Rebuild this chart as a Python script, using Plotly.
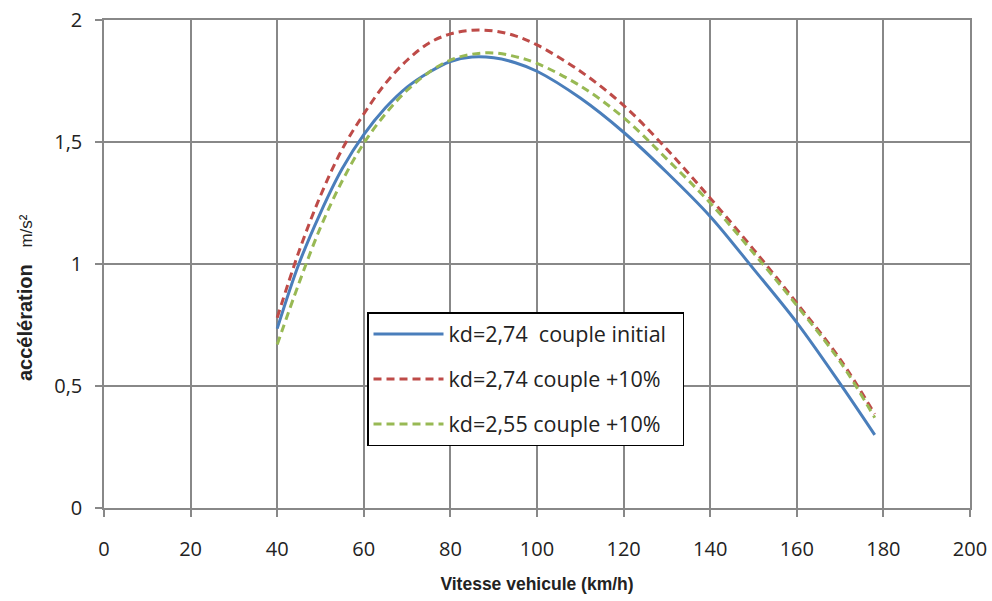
import plotly.graph_objects as go

vitesse = [40, 45, 50, 55, 60, 65, 70, 75, 80, 85, 90, 95, 100, 110, 120, 130, 140, 150, 160, 170, 178]
acc_initial = [0.735, 1.00, 1.21, 1.39, 1.53, 1.64, 1.725, 1.785, 1.83, 1.848, 1.845, 1.825, 1.79, 1.68, 1.54, 1.375, 1.195, 0.98, 0.76, 0.51, 0.30]
acc_274_p10 = [0.78, 1.05, 1.28, 1.47, 1.615, 1.74, 1.835, 1.905, 1.943, 1.958, 1.955, 1.935, 1.898, 1.79, 1.65, 1.47, 1.27, 1.06, 0.84, 0.61, 0.385]
acc_255_p10 = [0.67, 0.92, 1.15, 1.34, 1.495, 1.615, 1.712, 1.785, 1.836, 1.86, 1.865, 1.85, 1.822, 1.73, 1.60, 1.43, 1.25, 1.045, 0.83, 0.60, 0.37]

names = ["kd=2,74\u00a0 couple initial\u00a0\u00a0", "kd=2,74 couple +10%", "kd=2,55 couple +10%"]
colors = ["#4A7EBB", "#BE4B48", "#98B954"]
dashes = ["solid", "8px,5px", "8px,5px"]
series = [acc_initial, acc_274_p10, acc_255_p10]

x_ticks = list(range(0, 201, 20))
y_ticks = [0, 0.5, 1, 1.5, 2]

fig = go.Figure()
for i, (n, ys) in enumerate(zip(names, series)):
    fig.add_trace(go.Scatter(
        x=vitesse, y=ys, name=n, mode="lines",
        line=dict(color=colors[i], width=3, dash=dashes[i], shape="spline", smoothing=1.0),
        legendgroup=str(i),
    ))

grid = "#888888"
tickfont = dict(family="Open Sans", size=20, color="#222222")
fig.update_layout(
    width=992, height=601,
    margin=dict(l=104, r=22, t=20, b=93),
    paper_bgcolor="white", plot_bgcolor="white",
    separators=", ",
    showlegend=True,
    legend=dict(
        x=(367 - 104) / 866, y=(508 - 312) / 488, xanchor="left", yanchor="top",
        bordercolor="black", borderwidth=1.5, bgcolor="white",
        font=dict(family="Open Sans", size=21.5, color="#222222"),
        itemwidth=70, tracegroupgap=14, traceorder="grouped",
    ),
    xaxis=dict(
        range=[0, 200], tickvals=x_ticks, showgrid=True, gridcolor=grid, gridwidth=1.5,
        showline=True, linecolor=grid, linewidth=1.5, mirror=True,
        ticks="outside", ticklen=7, tickcolor=grid, tickwidth=1.5,
        tickfont=tickfont, ticklabelstandoff=15, zeroline=False, automargin=False,
        ticklabeloverflow="allow",
        title=dict(text="<b>Vitesse vehicule (km/h)</b>", standoff=17,
                   font=dict(family="Liberation Sans", size=17.5, color="#222222")),
    ),
    yaxis=dict(
        range=[0, 2], tickvals=y_ticks, showgrid=True, gridcolor=grid, gridwidth=1.5,
        showline=True, linecolor=grid, linewidth=1.5, mirror=True,
        ticks="outside", ticklen=7, tickcolor=grid, tickwidth=1.5,
        tickfont=tickfont, ticklabelstandoff=9, zeroline=False, automargin=False,
        ticklabeloverflow="allow",
    ),
)
fig.add_annotation(
    text="<b>accélération</b>\u00a0\u00a0\u00a0<span style='font-size:17px'>m/s²</span>",
    xref="paper", yref="paper", x=(25 - 104) / 866, y=(508 - 298) / 488,
    xanchor="center", yanchor="middle", textangle=-90, showarrow=False,
    font=dict(family="Liberation Sans", size=20, color="#222222"),
)
fig.write_html(
    "out.html",
    config={"displayModeBar": False},
    post_script="document.body.style.margin='0';document.body.style.overflow='hidden';",
)
